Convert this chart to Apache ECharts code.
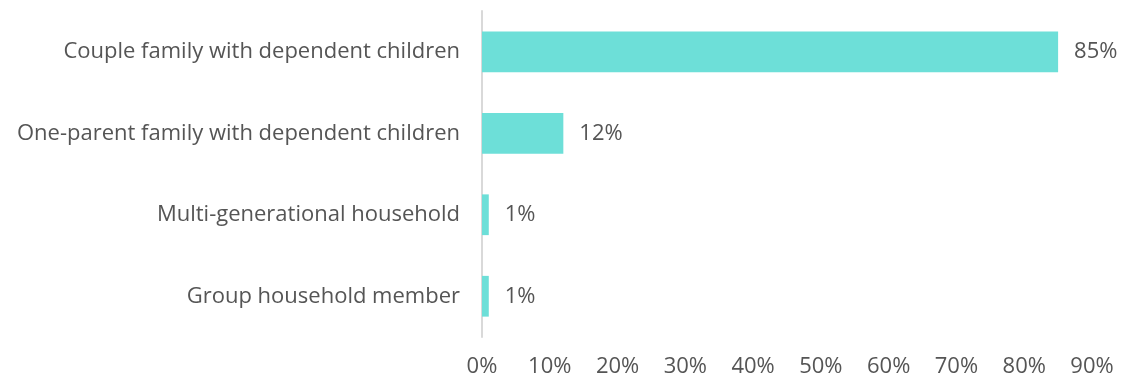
<!DOCTYPE html>
<html>
<head>
<meta charset="utf-8">
<script src="https://cdn.jsdelivr.net/npm/echarts@6/dist/echarts.min.js"></script>
<style>
  html, body { margin: 0; padding: 0; background: #fff; }
  #chart { width: 1126px; height: 378px; }
</style>
</head>
<body>
<div id="chart"></div>
<script>
// Household type of respondents, share in percent
const categories = [
  'Couple family with dependent children',
  'One-parent family with dependent children',
  'Multi-generational household',
  'Group household member'
];
const shares = [85, 12, 1, 1];
const xTicks = { min: 0, max: 90, interval: 10 };

const FONT = 'Open Sans';
const TEXT = '#555555';
const SIZE = 22;

const chart = echarts.init(document.getElementById('chart'));
chart.setOption({
  animation: false,
  grid: { left: 482, right: 34, top: 11, bottom: 41 },
  xAxis: {
    type: 'value',
    min: xTicks.min,
    max: xTicks.max,
    interval: xTicks.interval,
    axisLine: { show: false },
    axisTick: { show: false },
    splitLine: { show: false },
    axisLabel: {
      formatter: '{value}%',
      color: TEXT,
      fontFamily: FONT,
      fontSize: SIZE,
      margin: 19
    }
  },
  yAxis: {
    type: 'category',
    data: categories,
    inverse: true,
    axisLine: { show: true, lineStyle: { color: '#d9d9d9', width: 2 } },
    axisTick: { show: false },
    axisLabel: {
      color: TEXT,
      fontFamily: FONT,
      fontSize: SIZE,
      margin: 22
    }
  },
  series: [{
    type: 'bar',
    data: shares,
    barCategoryGap: '50%',
    itemStyle: { color: '#6ddfd8' },
    label: {
      show: true,
      position: 'right',
      distance: 16,
      formatter: '{c}%',
      color: TEXT,
      fontFamily: FONT,
      fontSize: SIZE
    }
  }]
});
</script>
</body>
</html>
